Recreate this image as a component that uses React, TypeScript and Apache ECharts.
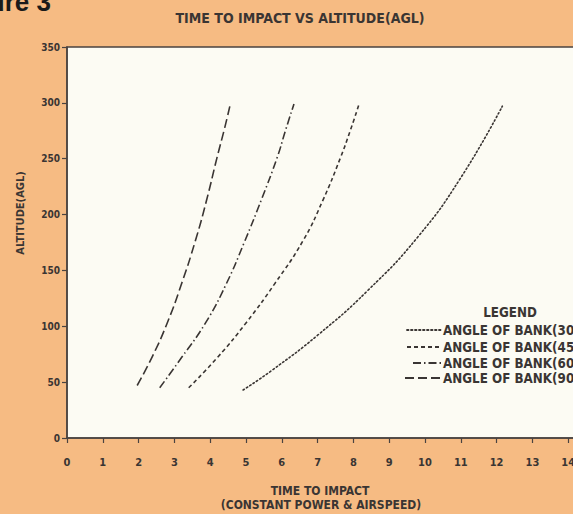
import React, { useEffect, useRef } from "react";
import * as echarts from "echarts";

const FONT = "'Liberation Sans Narrow', 'DejaVu Sans Condensed', 'Roboto Condensed', sans-serif";

const bank90: [number, number][] = [
  [1.96, 47], [2.4, 74], [2.8, 103], [3.2, 138], [3.59, 177], [3.9, 213], [4.19, 251], [4.4, 277], [4.57, 300],
];
const bank60: [number, number][] = [
  [2.59, 45], [3.2, 72], [3.87, 103], [4.45, 138], [4.95, 175], [5.45, 215], [5.87, 251], [6.1, 275], [6.34, 299],
];
const bank45: [number, number][] = [
  [3.4, 45], [4.2, 72], [5.0, 103], [5.8, 138], [6.6, 177], [7.15, 213], [7.64, 251], [7.9, 274], [8.15, 298],
];
const bank30: [number, number][] = [
  [4.92, 43], [5.7, 60], [7.0, 92], [8.4, 132], [9.8, 180], [11.0, 233], [12.16, 297],
];

const seriesNames = ["ANGLE OF BANK(30)", "ANGLE OF BANK(45)", "ANGLE OF BANK(60)", "ANGLE OF BANK(90)"];
const xTicks = [0, 1, 2, 3, 4, 5, 6, 7, 8, 9, 10, 11, 12, 13, 14, 15];
const yTicks = [0, 50, 100, 150, 200, 250, 300, 350];

const INK = "#3a3533";
const dash30 = [1.5, 2.5];
const dash45 = [4, 3];
const dash60 = [8, 3, 1.5, 3];
const dash90 = [9, 4];

export default function App() {
  const ref = useRef<HTMLDivElement>(null);
  useEffect(() => {
    document.body.style.margin = "0";
    const chart = echarts.init(ref.current!, null, { renderer: "svg" });
    const mk = (name: string, data: [number, number][], dash: number[], cap: "round" | "butt") => ({
      name,
      type: "line",
      data,
      smooth: true,
      symbol: "none",
      lineStyle: { color: INK, width: 1.6, type: dash, cap },
    });
    const legendRows = [
      { y: 330, x1: 407, dash: dash30, cap: "round", name: seriesNames[0] },
      { y: 347, x1: 407, dash: dash45, cap: "butt", name: seriesNames[1] },
      { y: 363, x1: 413, dash: dash60, cap: "butt", name: seriesNames[2] },
      { y: 378, x1: 405, dash: dash90, cap: "butt", name: seriesNames[3] },
    ];
    const legendGraphics: any[] = [];
    legendRows.forEach((r) => {
      legendGraphics.push({
        type: "line",
        shape: { x1: r.x1, y1: r.y, x2: 442, y2: r.y },
        style: { stroke: INK, lineWidth: 1.8, lineDash: r.dash, lineCap: r.cap },
        z: 100,
      });
      legendGraphics.push({
        type: "text",
        x: 443,
        y: r.y,
        scaleX: 0.95,
        style: { text: r.name, fill: INK, font: `bold 14px ${FONT}`, textAlign: "left", textVerticalAlign: "middle" },
        z: 100,
      });
    });
    chart.setOption({
      animation: false,
      backgroundColor: "#f6bb83",
      grid: {
        left: 67,
        top: 47,
        width: 537,
        height: 391,
        outerBoundsMode: "none",
        containLabel: false,
        show: true,
        backgroundColor: "#fcfbf3",
        borderColor: "#4a4340",
        borderWidth: 1.5,
      },
      xAxis: {
        type: "value",
        min: 0,
        max: 15,
        interval: 1,
        splitLine: { show: false },
        axisLine: { lineStyle: { color: "#4a4340", width: 1.5 } },
        axisTick: { show: true, length: 5, lineStyle: { color: "#4a4340", width: 1.2 } },
        axisLabel: {
          color: INK,
          fontFamily: FONT,
          fontWeight: "bold",
          fontSize: 11,
          margin: 19,
          formatter: (v: number) => (xTicks.includes(v) ? String(v) : ""),
        },
      },
      yAxis: {
        type: "value",
        min: 0,
        max: 350,
        interval: 50,
        splitLine: { show: false },
        axisLine: { lineStyle: { color: "#4a4340", width: 1.5 } },
        axisTick: { show: true, length: 5, lineStyle: { color: "#4a4340", width: 1.2 } },
        axisLabel: {
          color: INK,
          fontFamily: FONT,
          fontWeight: "bold",
          fontSize: 10,
          margin: 7,
          formatter: (v: number) => (yTicks.includes(v) ? String(v) : ""),
        },
      },
      series: [
        mk(seriesNames[0], bank30, dash30, "round"),
        mk(seriesNames[1], bank45, dash45, "butt"),
        mk(seriesNames[2], bank60, dash60, "butt"),
        mk(seriesNames[3], bank90, dash90, "butt"),
      ],
      graphic: [
        {
          type: "text",
          x: 51,
          y: 2,
          style: { text: "Figure 3", fill: "#1a1a1a", font: "bold 26px 'Liberation Sans', Arial, sans-serif", textAlign: "right", textVerticalAlign: "middle" },
        },
        {
          type: "text",
          x: 300,
          y: 18,
          style: { text: "TIME TO IMPACT VS ALTITUDE(AGL)", fill: INK, font: `bold 14px ${FONT}`, textAlign: "center", textVerticalAlign: "middle" },
        },
        {
          type: "text",
          x: 20,
          y: 213,
          rotation: Math.PI / 2,
          style: { text: "ALTITUDE(AGL)", fill: INK, font: `bold 11px ${FONT}`, textAlign: "center", textVerticalAlign: "middle" },
        },
        {
          type: "text",
          x: 320,
          y: 491,
          style: { text: "TIME TO IMPACT", fill: INK, font: `bold 12px ${FONT}`, textAlign: "center", textVerticalAlign: "middle" },
        },
        {
          type: "text",
          x: 321,
          y: 505,
          style: { text: "(CONSTANT POWER & AIRSPEED)", fill: INK, font: `bold 12px ${FONT}`, textAlign: "center", textVerticalAlign: "middle" },
        },
        {
          type: "text",
          x: 510,
          y: 312,
          scaleX: 0.95,
          style: { text: "LEGEND", fill: INK, font: `bold 14px ${FONT}`, textAlign: "center", textVerticalAlign: "middle" },
          z: 100,
        },
        ...legendGraphics,
      ],
    });
    return () => chart.dispose();
  }, []);
  return <div ref={ref} style={{ width: 573, height: 514 }} />;
}
